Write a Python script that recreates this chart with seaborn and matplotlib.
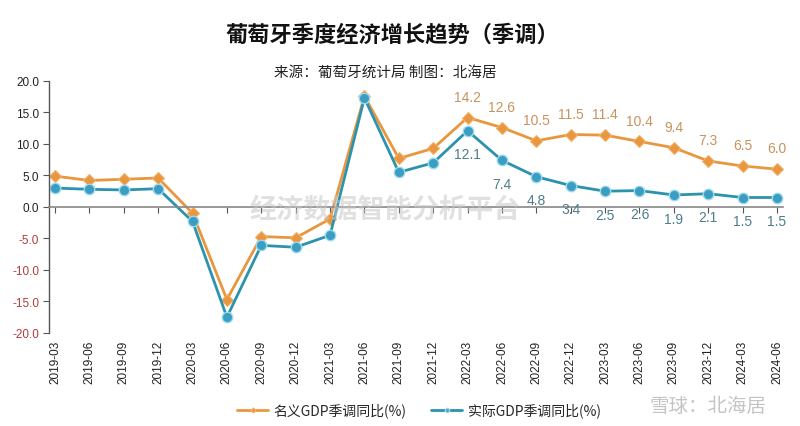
import numpy as np
import pandas as pd
import matplotlib
matplotlib.use("Agg")
import matplotlib.pyplot as plt
import seaborn as sns

quarters = ["2019-03", "2019-06", "2019-09", "2019-12", "2020-03", "2020-06",
            "2020-09", "2020-12", "2021-03", "2021-06", "2021-09", "2021-12",
            "2022-03", "2022-06", "2022-09", "2022-12", "2023-03", "2023-06",
            "2023-09", "2023-12", "2024-03", "2024-06"]
nominal = [4.9, 4.2, 4.4, 4.6, -1.0, -14.7, -4.7, -4.9, -1.9, 17.6, 7.7, 9.3,
           14.2, 12.6, 10.5, 11.5, 11.4, 10.4, 9.4, 7.3, 6.5, 6.0]
real = [3.0, 2.8, 2.7, 2.9, -2.3, -17.5, -6.1, -6.4, -4.5, 17.3, 5.5, 7.0,
        12.1, 7.4, 4.8, 3.4, 2.5, 2.6, 1.9, 2.1, 1.5, 1.5]
series_names = ["名义GDP季调同比(%)", "实际GDP季调同比(%)"]
yticks = [-20, -15, -10, -5, 0, 5, 10, 15, 20]
label_start = 12

sns.set_theme(style="white")
plt.rcParams["font.family"] = ["Liberation Sans", "Noto Sans CJK SC", "DejaVu Sans"]
plt.rcParams["axes.unicode_minus"] = False
CJK = ["Noto Sans CJK SC", "DejaVu Sans"]

c_nom = "#E8973E"
c_real = "#2B93AE"

df = pd.DataFrame({"quarter": quarters, "nominal": nominal, "real": real})
xpos = np.arange(len(quarters))
df["x"] = xpos

fig = plt.figure(figsize=(8.0, 4.27), dpi=100)
ax = fig.add_axes([0.061, 0.218, 0.918, 0.590])

sns.lineplot(data=df, x="x", y="nominal", ax=ax, color=c_nom, lw=2.0,
             marker="D", markersize=6.5, markeredgecolor="#F2B06A",
             markeredgewidth=0.8, label=series_names[0], sort=False)
sns.lineplot(data=df, x="x", y="real", ax=ax, color=c_real, lw=2.0,
             marker="o", markersize=7.5, markerfacecolor="#3A9EC2",
             markeredgecolor="#9ED8EC", markeredgewidth=1.0,
             label=series_names[1], sort=False)

# data labels
for i in range(label_start, len(quarters)):
    ax.annotate(f"{nominal[i]:.1f}", (xpos[i], nominal[i]), xytext=(0, 15),
                textcoords="offset points", ha="center", va="center",
                fontsize=10, color="#C8935E")
    ax.annotate(f"{real[i]:.1f}", (xpos[i], real[i]), xytext=(0, -17),
                textcoords="offset points", ha="center", va="center",
                fontsize=10, color="#4F7C8C")

ax.set_xlim(-0.18, len(quarters) - 1 + 0.18)
ax.set_ylim(-20, 20)
ax.set_yticks(yticks)
ax.set_yticklabels([f"{v:.1f}" for v in yticks], fontsize=8.5)
for lab, v in zip(ax.get_yticklabels(), yticks):
    lab.set_color("#B23A3A" if v < 0 else "#222222")

for s in ["top", "right"]:
    ax.spines[s].set_visible(False)
ax.spines["left"].set_color("#555555")
ax.spines["left"].set_linewidth(1.0)
ax.spines["bottom"].set_position(("data", 0))
ax.spines["bottom"].set_color("#888888")
ax.spines["bottom"].set_linewidth(1.2)
ax.set_xticks(xpos)
ax.tick_params(axis="x", which="both", bottom=True, length=4, width=0.8,
               color="#555555", direction="out", labelbottom=False)
ax.tick_params(axis="y", left=True, length=4, width=0.8, color="#555555",
               direction="out", pad=3)
ax.set_xlabel("")
ax.set_ylabel("")

sec = ax.secondary_xaxis("bottom")
sec.set_xticks(xpos)
sec.set_xticklabels(quarters, rotation=90, fontsize=8.5, color="#222222")
sec.tick_params(length=0, pad=5)
sec.spines["bottom"].set_visible(False)

leg = ax.legend(loc="lower center", bbox_to_anchor=(0.5040, -0.385), ncol=2,
                frameon=False, prop={"family": CJK, "size": 10},
                handlelength=2.2, columnspacing=1.8, handletextpad=0.4,
                markerscale=0.4)

fig.text(0.491, 0.918, "葡萄牙季度经济增长趋势（季调）", ha="center", va="center",
         fontsize=16, fontweight="bold", family=CJK, color="#111111")
fig.text(0.482, 0.829, "来源：葡萄牙统计局 制图：北海居", ha="center", va="center",
         fontsize=10.5, style="italic", family=CJK, color="#222222")

# watermarks
fig.text(0.482, 0.508, "经济数据智能分析平台", ha="center", va="center",
         fontsize=19.5, fontweight="bold", family=CJK, color="#C8C8C8",
         alpha=0.55)
fig.text(0.885, 0.047, "雪球：北海居", ha="center", va="center",
         fontsize=14, family=CJK, color="#C4C4C4")

fig.savefig("out.png", dpi=100)
